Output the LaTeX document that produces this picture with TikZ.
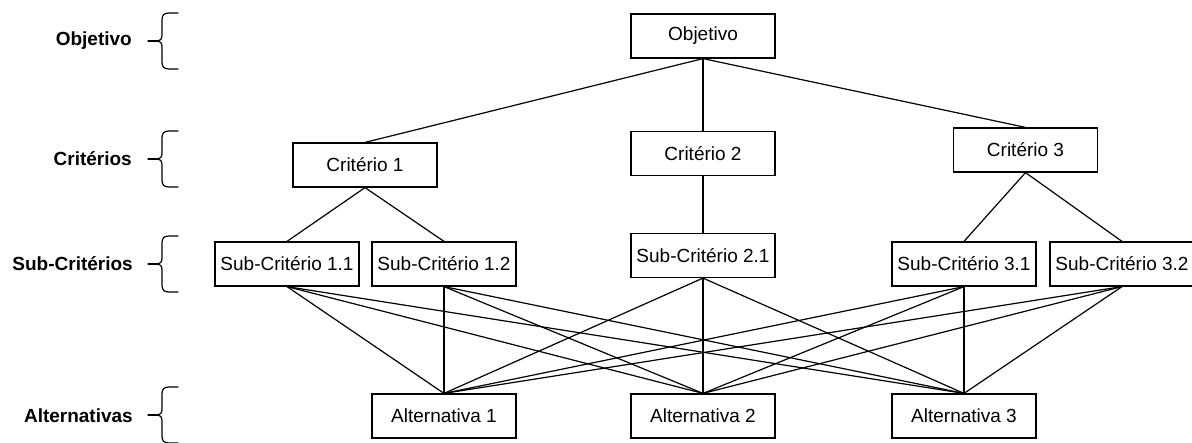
\documentclass[tikz,border=0pt]{standalone}
\usepackage{fontspec}
\setmainfont{Liberation Sans}
\begin{document}
\begin{tikzpicture}[x=1pt,y=-1pt,
  box/.style={draw, line width=1.2pt, minimum width=144pt, minimum height=44pt, inner sep=0pt, fill=white,
    font=\fontsize{19}{22}\selectfont},
  lvl/.style={anchor=east, inner sep=0pt, font=\fontsize{19}{22}\selectfont\bfseries},
  conn/.style={line width=1.2pt},
  brc/.style={line width=1.2pt, line cap=round},
  pics/lvlbrace/.style={code={
    \draw[brc] (16,-28) -- (7,-28) .. controls (2,-28) and (0,-26) .. (0,-21) -- (0,-6)
      .. controls (0,-2) and (-2,0) .. (-4,0) .. controls (-2,0) and (0,2) .. (0,6) -- (0,21)
      .. controls (0,26) and (2,28) .. (7,28) -- (16,28);
    \draw[brc] (-14,0) -- (-4,0);
  }}]
\useasboundingbox (0,0) rectangle (1192,443);
\begin{scope}
\clip (0,0) rectangle (1192,443);
% level labels
\node[lvl] (lO) at (132,41) {Objetivo};
\node[lvl] (lC) at (132,159) {Critérios};
\node[lvl] (lS) at (133,264) {Sub-Critérios};
\node[lvl] (lA) at (133,416) {Alternativas};
\pic at (162,41) {lvlbrace};
\pic at (162,159) {lvlbrace};
\pic at (162,264) {lvlbrace};
\pic at (162,415) {lvlbrace};
% boxes
\node[box] (obj) at (703,36) {Objetivo};
\node[box] (c1) at (365,165) {Critério 1};
\node[box] (c2) at (703,153.5) {Critério 2};
\node[box] (c3) at (1025.5,150) {Critério 3};
\node[box] (s11) at (287,264) {Sub-Critério 1.1};
\node[box] (s12) at (444,264) {Sub-Critério 1.2};
\node[box] (s21) at (703,255.5) {Sub-Critério 2.1};
\node[box] (s31) at (964,264) {Sub-Critério 3.1};
\node[box] (s32) at (1122,264) {Sub-Critério 3.2};
\node[box] (a1) at (444,416) {Alternativa 1};
\node[box] (a2) at (703,416) {Alternativa 2};
\node[box] (a3) at (964,416) {Alternativa 3};
% connectors
\foreach \c in {c1,c2,c3} \draw[conn] (obj.south) -- (\c.north);
\draw[conn] (c1.south) -- (s11.north);
\draw[conn] (c1.south) -- (s12.north);
\draw[conn] (c2.south) -- (s21.north);
\draw[conn] (c3.south) -- (s31.north);
\draw[conn] (c3.south) -- (s32.north);
\foreach \s in {s11,s12,s21,s31,s32}
  \foreach \a in {a1,a2,a3}
    \draw[conn] (\s.south) -- (\a.north);
\end{scope}
\end{tikzpicture}
\end{document}
